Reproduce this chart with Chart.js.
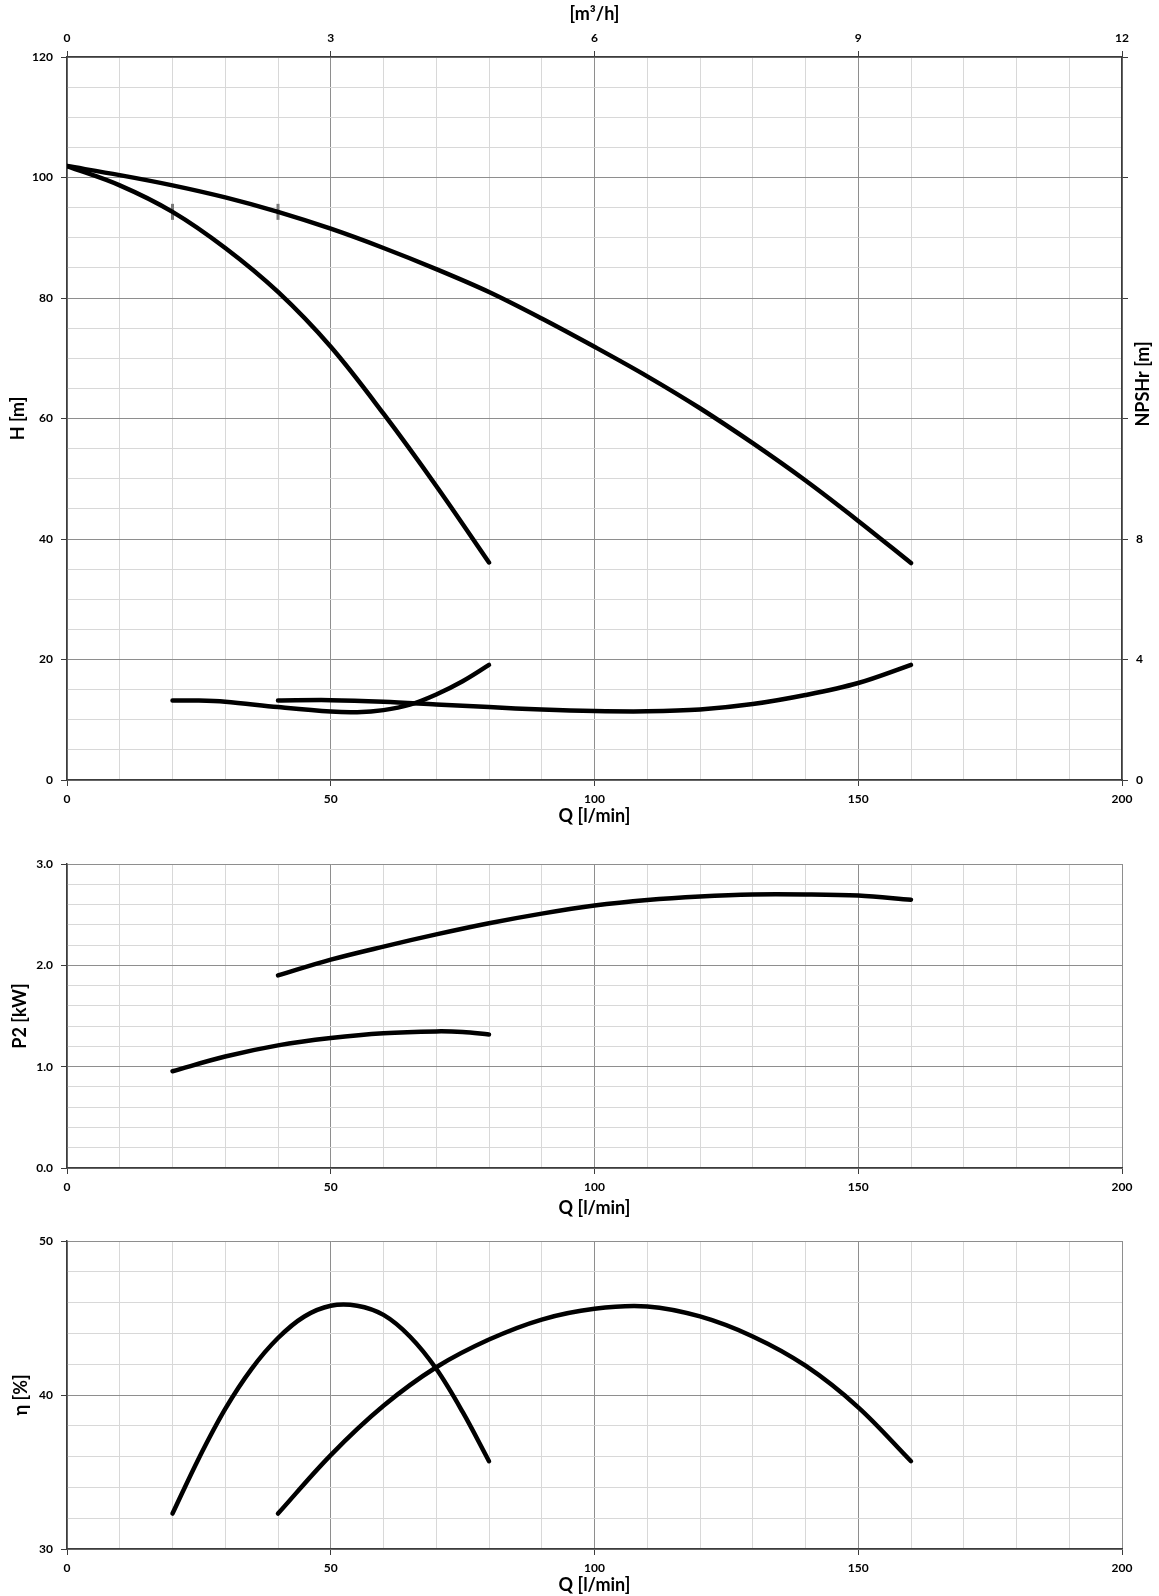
<!DOCTYPE html>
<html>
<head>
<meta charset="utf-8">
<script src="https://cdn.jsdelivr.net/npm/chart.js@4.4.1/dist/chart.umd.min.js"></script>
<style>
  body { margin: 0; background: #fff; }
  .box { position: absolute; left: 0; width: 1159px; }
</style>
</head>
<body>
<div class="box" style="top:0;height:840px"><canvas id="head"></canvas></div>
<div class="box" style="top:840px;height:380px"><canvas id="power"></canvas></div>
<div class="box" style="top:1220px;height:376px"><canvas id="eff"></canvas></div>
<script>
// H [m] curves, Q in l/min
const qHeadSmall = [0, 10, 20, 30, 40, 50, 60, 70, 80];
const headSmall = [101.9, 98.7, 94.3, 88.3, 81.0, 71.9, 60.8, 48.8, 36.1];
const qHeadBig = [0, 10, 20, 30, 40, 50, 60, 70, 80, 90, 100, 110, 120, 130, 140, 150, 160];
const headBig = [101.9, 100.4, 98.7, 96.7, 94.3, 91.5, 88.3, 84.8, 81.0, 76.6, 71.9, 67.0, 61.7, 55.9, 49.7, 43.0, 36.0];

// min flow marks on the H curves
const minFlowQ = [20, 40];
const minFlowH = [94.3, 94.3];

// NPSHr [m]
const qNpshSmall = [20, 25, 30, 40, 50, 55, 60, 65, 70, 75, 80];
const npshSmall = [2.64, 2.64, 2.60, 2.42, 2.27, 2.25, 2.32, 2.50, 2.84, 3.28, 3.82];
const qNpshBig = [40, 50, 60, 70, 80, 90, 100, 110, 120, 130, 140, 150, 160];
const npshBig = [2.64, 2.65, 2.60, 2.51, 2.42, 2.34, 2.29, 2.28, 2.34, 2.52, 2.82, 3.22, 3.82];

// P2 [kW]
const qPowerSmall = [20, 30, 40, 50, 60, 70, 75, 80];
const powerSmall = [0.955, 1.10, 1.21, 1.282, 1.33, 1.348, 1.342, 1.318];
const qPowerBig = [40, 50, 60, 70, 80, 90, 100, 110, 120, 130, 140, 150, 160];
const powerBig = [1.90, 2.056, 2.185, 2.305, 2.415, 2.51, 2.59, 2.645, 2.68, 2.70, 2.70, 2.688, 2.648];

// efficiency [%]
const qEffSmall = [20, 25, 30, 35, 40, 45, 50, 55, 60, 65, 70, 75, 80];
const effSmall = [32.3, 35.9, 39.1, 41.7, 43.7, 45.1, 45.8, 45.8, 45.2, 43.8, 41.7, 38.9, 35.7];
const qEffBig = [40, 50, 60, 70, 80, 90, 100, 110, 120, 130, 140, 150, 160];
const effBig = [32.3, 36.1, 39.3, 41.8, 43.6, 44.9, 45.6, 45.75, 45.1, 43.8, 41.9, 39.2, 35.7];

// top axis [m3/h] and right axis NPSHr labels
const flowM3Ticks = [0, 3, 6, 9, 12];
const npshLabels = [0, 4, 8];

const majorGrid = '#8e8e8e';
const minorGrid = '#d8d8d8';
const axisLine = '#3c3c3c';
const tickFont = { size: 12, weight: 'bold' };
const titleFont = { size: 18, weight: 'bold' };

Chart.defaults.font.family = "Lato, 'Open Sans', sans-serif";
Chart.defaults.color = '#000';

const pts = (xs, ys) => xs.map((x, i) => ({ x: x, y: ys[i] }));
const isMajor = (v, step) => Math.abs(v / step - Math.round(v / step)) < 1e-6;

function curve(xs, ys, axis) {
  return {
    data: pts(xs, ys), yAxisID: axis || 'y', showLine: true, pointRadius: 0,
    borderColor: '#000', borderWidth: 4.5, tension: 0.35, borderCapStyle: 'round'
  };
}

function qAxis(axisHeight, titlePad) {
  return {
    type: 'linear', position: 'bottom', min: 0, max: 200,
    ticks: {
      stepSize: 10, autoSkip: false, maxRotation: 0, padding: 6, font: tickFont,
      callback: v => isMajor(v, 50) ? v : ''
    },
    grid: {
      color: c => c.tick && isMajor(c.tick.value, 50) ? majorGrid : minorGrid,
      tickColor: c => c.tick && isMajor(c.tick.value, 50) ? axisLine : 'rgba(0,0,0,0)',
      tickLength: 6
    },
    border: { color: axisLine, width: 1.5 },
    title: { display: true, text: 'Q [l/min]', font: titleFont, padding: { top: 0, bottom: titlePad } },
    afterFit: s => { s.height = axisHeight; }
  };
}

function valAxis(min, max, step, major, label, title, titlePad) {
  return {
    type: 'linear', position: 'left', min: min, max: max,
    ticks: {
      stepSize: step, autoSkip: false, padding: 8, font: tickFont,
      callback: v => isMajor(v, major) ? label(v) : ''
    },
    grid: {
      color: c => c.tick && isMajor(c.tick.value, major) ? majorGrid : minorGrid,
      tickColor: c => c.tick && isMajor(c.tick.value, major) ? axisLine : 'rgba(0,0,0,0)',
      tickLength: 6
    },
    border: { color: axisLine, width: 1.5 },
    title: { display: true, text: title, font: titleFont, padding: { top: titlePad, bottom: 0 } },
    afterFit: s => { s.width = 67; }
  };
}

const common = {
  responsive: true, maintainAspectRatio: false, animation: false, events: [],
  plugins: { legend: { display: false }, tooltip: { enabled: false } }
};

// NPSHr title reads bottom to top like the left one
const npshTitle = {
  id: 'npshTitle',
  afterDraw(chart) {
    const ctx = chart.ctx;
    ctx.save();
    ctx.translate(1143, 384);
    ctx.rotate(-Math.PI / 2);
    ctx.font = "bold 18px Lato, 'Open Sans', sans-serif";
    ctx.fillStyle = '#000';
    ctx.textAlign = 'center';
    ctx.textBaseline = 'middle';
    ctx.fillText('NPSHr [m]', 0, 0);
    ctx.restore();
  }
};

new Chart(document.getElementById('head'), {
  type: 'scatter',
  data: {
    datasets: [
      curve(qHeadSmall, headSmall),
      curve(qHeadBig, headBig),
      curve(qNpshSmall, npshSmall, 'npsh'),
      curve(qNpshBig, npshBig, 'npsh'),
      {
        data: pts(minFlowQ, minFlowH), showLine: false, pointStyle: 'line', rotation: 90,
        pointRadius: 8, pointBorderColor: '#7a7a7a', pointBorderWidth: 3
      }
    ]
  },
  options: Object.assign({}, common, {
    layout: { padding: 0 },
    scales: {
      x: qAxis(60, 13),
      x2: {
        type: 'linear', position: 'top', min: 0, max: 12,
        afterBuildTicks: s => { s.ticks = flowM3Ticks.map(v => ({ value: v })); },
        ticks: { autoSkip: false, maxRotation: 0, padding: 6, font: tickFont },
        grid: { drawOnChartArea: false, tickLength: 6, tickColor: axisLine },
        border: { color: axisLine, width: 1.5 },
        title: { display: true, text: '[m³/h]', font: titleFont, padding: { top: 3, bottom: 0 } },
        afterFit: s => { s.height = 57; }
      },
      y: valAxis(0, 120, 5, 20, v => v, 'H [m]', 7),
      npsh: {
        type: 'linear', position: 'right', min: 0, max: 24,
        ticks: {
          stepSize: 4, autoSkip: false, padding: 8, font: tickFont,
          callback: v => npshLabels.includes(v) ? v : ''
        },
        grid: { drawOnChartArea: false, tickLength: 6, tickColor: axisLine },
        border: { color: axisLine, width: 1.5 },
        afterFit: s => { s.width = 37; }
      }
    }
  }),
  plugins: [npshTitle]
});

new Chart(document.getElementById('power'), {
  type: 'scatter',
  data: { datasets: [curve(qPowerSmall, powerSmall), curve(qPowerBig, powerBig)] },
  options: Object.assign({}, common, {
    layout: { padding: { top: 24, right: 37, left: 0, bottom: 0 } },
    scales: {
      x: qAxis(52, 1),
      y: valAxis(0, 3, 0.2, 1, v => v.toFixed(1), 'P2 [kW]', 9)
    }
  })
});

new Chart(document.getElementById('eff'), {
  type: 'scatter',
  data: { datasets: [curve(qEffSmall, effSmall), curve(qEffBig, effBig)] },
  options: Object.assign({}, common, {
    layout: { padding: { top: 21, right: 37, left: 0, bottom: 0 } },
    scales: {
      x: qAxis(47, 0),
      y: valAxis(30, 50, 2, 10, v => v, 'η [%]', 10)
    }
  })
});
</script>
</body>
</html>
